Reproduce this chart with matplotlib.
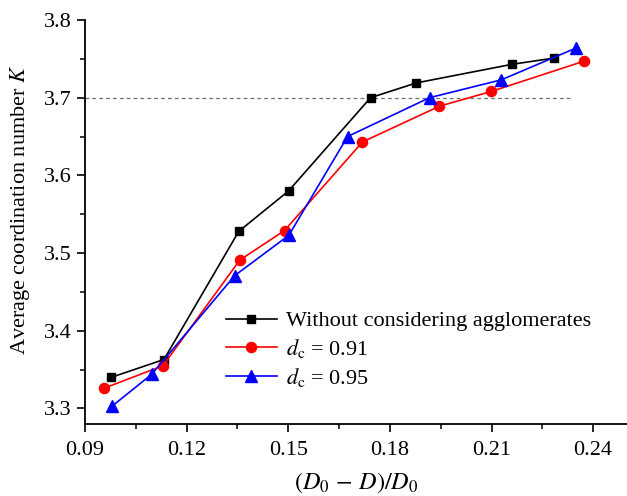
import matplotlib
matplotlib.use("Agg")
import matplotlib.pyplot as plt
from matplotlib.ticker import MultipleLocator

plt.rcParams['font.family'] = ['Liberation Serif', 'DejaVu Serif']
plt.rcParams['mathtext.fontset'] = 'stix'

x_none = [0.0977, 0.1133, 0.1354, 0.1501, 0.1743, 0.1878, 0.2161, 0.2285]
k_none = [3.340, 3.363, 3.528, 3.580, 3.700, 3.719, 3.743, 3.751]

x_091 = [0.0956, 0.1130, 0.1357, 0.1489, 0.1719, 0.1946, 0.2099, 0.2373]
k_091 = [3.326, 3.355, 3.491, 3.529, 3.643, 3.689, 3.708, 3.747]

x_095 = [0.0980, 0.1097, 0.1342, 0.1502, 0.1675, 0.1917, 0.2129, 0.2350]
k_095 = [3.303, 3.344, 3.471, 3.523, 3.650, 3.700, 3.723, 3.764]

ref_k = 3.7
ref_x = [0.09, 0.2338]

labels = ['Without considering agglomerates', r'$d_\mathrm{c}$ = 0.91', r'$d_\mathrm{c}$ = 0.95']

fig = plt.figure(figsize=(6.27, 4.96), dpi=100)
ax = fig.add_axes([85/627, 1-424/496, 1-85/627, (424-20)/496])

ax.plot(ref_x, [ref_k, ref_k], ls=(0, (3, 2.5)), color='#707070', lw=0.9)
ax.plot(x_none, k_none, color='black', marker='s', ms=6, lw=1.2, label=labels[0])
ax.plot(x_091, k_091, color='#ff0000', marker='o', ms=7.3, lw=1.2, label=labels[1])
ax.plot(x_095, k_095, color='#0000ff', marker='^', ms=8, lw=1.2, label=labels[2])

ax.set_xlim(0.09, 0.25)
ax.set_ylim(3.28, 3.8)
ax.xaxis.set_minor_locator(MultipleLocator(0.015))
ax.yaxis.set_minor_locator(MultipleLocator(0.05))
ax.set_xticks([0.09, 0.12, 0.15, 0.18, 0.21, 0.24])
ax.set_xticklabels(['0.09', '0.12', '0.15', '0.18', '0.21', '0.24'])
ax.set_yticks([3.3, 3.4, 3.5, 3.6, 3.7, 3.8])
ax.set_yticklabels(['3.3', '3.4', '3.5', '3.6', '3.7', '3.8'])

for s in ['top', 'right']:
    ax.spines[s].set_visible(False)
for s in ['left', 'bottom']:
    ax.spines[s].set_linewidth(1.3)
ax.tick_params(which='major', direction='out', length=6, width=1.2, labelsize=16)
ax.tick_params(axis='x', which='major', pad=6)
ax.tick_params(which='minor', direction='out', length=3.5, width=1.1)

ax.set_ylabel('Average coordination number $K$', fontsize=16, labelpad=8)
ax.yaxis.set_label_coords(-0.098, 0.53)
ax.set_xlabel(r'$(D_0\,-\,D)/D_0$', fontsize=17.5, labelpad=8)

ax.legend(loc='upper left', bbox_to_anchor=(0.26, 0.28), frameon=False, fontsize=16,
          handlelength=2.3, labelspacing=0.25, handletextpad=0.4, borderpad=0,
          borderaxespad=0)

fig.savefig('out.png', dpi=100, facecolor='white')
